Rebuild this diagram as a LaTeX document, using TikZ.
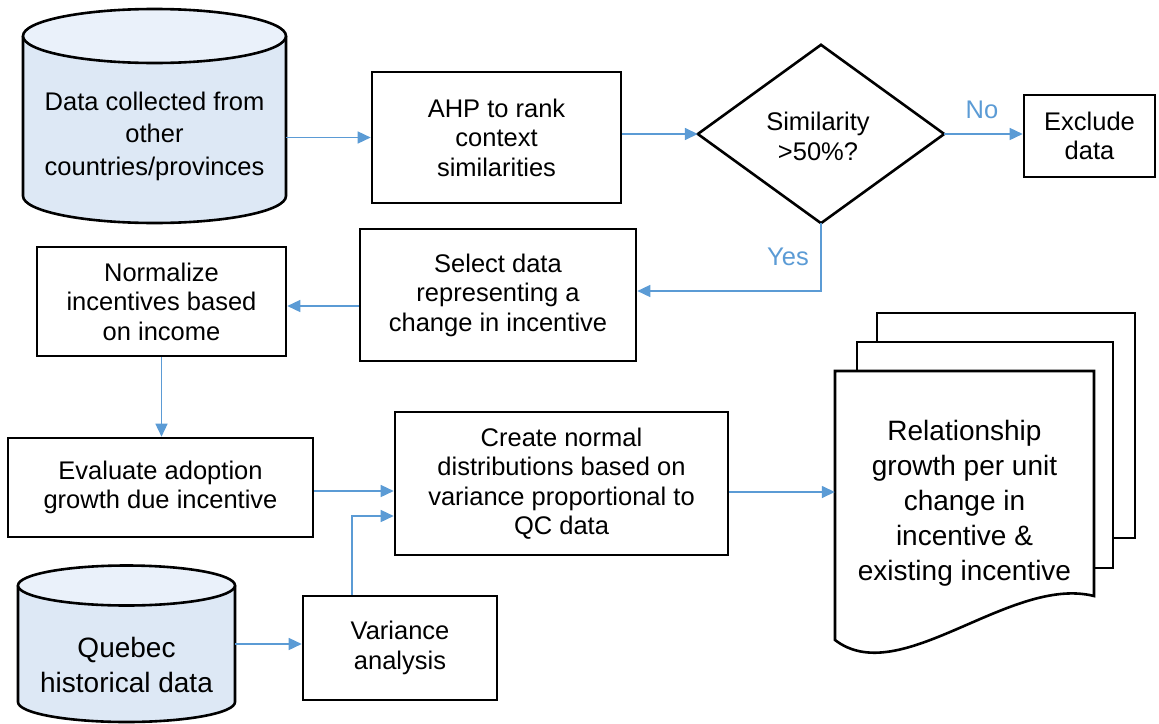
\documentclass[tikz,border=0pt]{standalone}
\usepackage{fontspec}
\setmainfont{Liberation Sans}
\usetikzlibrary{arrows.meta,calc}
\definecolor{flowblue}{RGB}{91,155,213}
\definecolor{cylbody}{RGB}{221,232,245}
\definecolor{cyltop}{RGB}{234,241,250}
\begin{document}
\begin{tikzpicture}[x=1pt,y=-1pt,
  boxline/.style={line width=2.6pt},
  box/.style={draw, boxline, fill=white, inner sep=0pt, align=center,
    font=\fontsize{25.5}{29.5}\selectfont},
  plain/.style={inner sep=0pt, align=center, font=\fontsize{25.5}{29.5}\selectfont},
  bigtext/.style={inner sep=0pt, align=center, font=\fontsize{28}{35}\selectfont},
  arr/.style={draw=flowblue, line width=1.5pt, -{Triangle[length=13pt,width=12pt]}},
  lbl/.style={inner sep=0pt, text=flowblue, font=\fontsize{25.5}{29.5}\selectfont}]
\useasboundingbox (0,0) rectangle (1159,723);

% cylinder A
\fill[cylbody] (23,36) rectangle (286,196);
\fill[cylbody] (154.5,196) ellipse[x radius=131.5pt, y radius=27pt];
\draw[boxline] (23,36) -- (23,196) arc[start angle=180, end angle=360, x radius=131.5pt, y radius=27pt] -- (286,36);
\draw[boxline, fill=cyltop] (154.5,36) ellipse[x radius=131.5pt, y radius=27pt];
\node[plain, minimum width=263pt, font=\fontsize{25.5}{32.5}\selectfont] (cylA) at (154.5,136) {Data collected from\\other\\countries/provinces};

% cylinder Quebec
\fill[cylbody] (18,585.5) rectangle (235,702);
\fill[cylbody] (126.5,702) ellipse[x radius=108.5pt, y radius=20pt];
\draw[boxline] (18,585.5) -- (18,702) arc[start angle=180, end angle=360, x radius=108.5pt, y radius=20pt] -- (235,585.5);
\draw[boxline, fill=cyltop] (126.5,585.5) ellipse[x radius=108.5pt, y radius=20pt];
\node[bigtext, minimum width=217pt] (quebec) at (126.5,664.5) {Quebec\\historical data};

% boxes
\node[box, minimum width=249pt, minimum height=131pt] (ahp) at (496.5,137.5) {AHP to rank\\context\\similarities};
\node[plain, minimum width=246pt, minimum height=178pt] (dia) at (821,134) {};
\draw[boxline, fill=white] (dia.west) -- (dia.north) -- (dia.east) -- (dia.south) -- cycle;
\node[plain] (diatext) at (818,136.5) {Similarity\\>50\%?};
\node[box, minimum width=131pt, minimum height=82pt] (excl) at (1089.5,136) {Exclude\\data};
\node[box, minimum width=276pt, minimum height=132pt] (sel) at (498,295) {Select data\\representing a\\change in incentive};
\node[box, minimum width=249pt, minimum height=109pt] (norm) at (161.5,301.5) {Normalize\\incentives based\\on income};
\node[box, minimum width=305pt, minimum height=99pt] (eval) at (160.5,487.5) {Evaluate adoption\\growth due incentive};
\node[box, minimum width=333pt, minimum height=143pt] (create) at (561.5,483.5) {Create normal\\distributions based on\\variance proportional to\\QC data};
\node[box, minimum width=194pt, minimum height=104pt] (var) at (400,648) {Variance\\analysis};

% document stack
\draw[boxline, fill=white] (877,313) rectangle (1135,538);
\draw[boxline, fill=white] (857,342) rectangle (1113,568);
\draw[boxline, fill=white] (835,371) -- (1094,371) -- (1094,596) .. controls (1010,575) and (900,690) .. (835,640) -- cycle;
\node[plain, minimum width=259pt, minimum height=242pt] (docbox) at (964.5,492) {};
\node[bigtext] (doc) at (964.5,503) {Relationship\\growth per unit\\change in\\incentive \&\\existing incentive};

% connectors
\coordinate (yesrow) at (0,291);
\coordinate (normrow) at (0,306);
\coordinate (evalrow) at (0,491);
\coordinate (varup) at (352,516);
\coordinate (qrow) at (0,644);
\draw[arr] (ahp.west -| cylA.east) -- (ahp.west);
\draw[arr] (dia.west -| ahp.east) -- (dia.west);
\draw[arr] (dia.east) -- (dia.east -| excl.west);
\draw[arr] (dia.south) |- (sel.east |- yesrow);
\draw[arr] (sel.west |- normrow) -- (norm.east |- normrow);
\draw[arr] (norm.south) -- (norm.south |- eval.north);
\draw[arr] (eval.east |- evalrow) -- (create.west |- evalrow);
\draw[arr] (var.north -| varup) |- (create.west |- varup);
\draw[arr] (quebec.east |- qrow) -- (var.west |- qrow);
\draw[arr] (docbox.west -| create.east) -- (docbox.west);

% labels
\node[lbl] (yes) at (788,257) {Yes};
\node[lbl] (no) at (982,110) {No};
\end{tikzpicture}
\end{document}
